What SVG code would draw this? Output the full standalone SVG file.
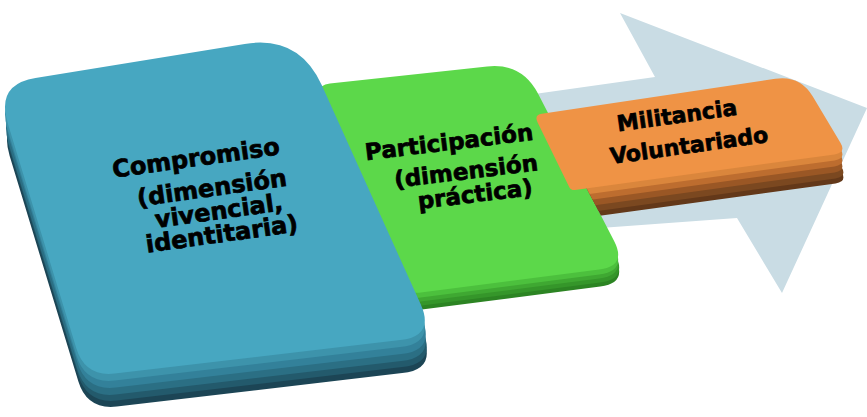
<svg xmlns="http://www.w3.org/2000/svg" width="867" height="417" viewBox="0 0 867 417">
<defs>
<style>
.t{font-family:"DejaVu Sans","Liberation Sans",sans-serif;font-weight:bold;fill:#000;stroke:#000;stroke-width:0.7;text-anchor:middle}
</style>
<path id="blueFace" d="M35.5,78.1 L244.7,43.9 Q299,35 321.7,85.1 L420.6,304.1 Q435,336 400.2,340.1 L114.8,373.5 Q85,377 76.3,348.3 L7.6,122.8 Q-4,84.5 35.5,78.1 Z"/>
<path id="greenFace" d="M329.9,83.4 L487.2,66.4 Q522,62.6 538.1,93.7 L614.1,241.1 Q627,266 599.2,269.6 L418.9,292.7 Q409,294 404.9,284.9 L321.2,98.7 Q315,85 329.9,83.4 Z"/>
<path id="orangeFace" d="M541.9,113.8 L775.3,78.7 Q800,75 812.8,96.5 L840.3,142.5 Q846.5,152.8 834.6,154.4 L575,190 Q571,190.5 569.2,186.9 L537.5,122.2 Q534,115 541.9,113.8 Z"/>
<clipPath id="orangeSideClip"><polygon points="536,60 870,30 870,300 630,300 614,241 538,94"/></clipPath>
</defs>

<g id="connectors">
<path d="M450,106 L655,77 L620,13 L867,108 L782,293 L737,218 L450,239 Z" fill="#c9dce4"/>
</g>

<g id="node-participacion">
<use href="#greenFace" transform="translate(1,17)" fill="#2c8423"/>
<use href="#greenFace" transform="translate(1,13)" fill="#35962a"/>
<use href="#greenFace" transform="translate(0,9)" fill="#3fa832"/>
<use href="#greenFace" transform="translate(0,5)" fill="#4cc03d"/>
<use href="#greenFace" fill="#5cd84a"/>
<text class="t" font-size="23" transform="translate(450,150) rotate(-7)">Participación</text>
<text class="t" font-size="23" transform="translate(467,179) rotate(-7)">(dimensión</text>
<text class="t" font-size="23" transform="translate(476,202) rotate(-7)">práctica)</text>
</g>

<g id="node-militancia">
<g clip-path="url(#orangeSideClip)">
<use href="#orangeFace" transform="translate(1,29)" fill="#633819"/>
<use href="#orangeFace" transform="translate(1,24)" fill="#7b4820"/>
<use href="#orangeFace" transform="translate(0,18)" fill="#9a5725"/>
<use href="#orangeFace" transform="translate(0,12)" fill="#bd6d2f"/>
<use href="#orangeFace" transform="translate(0,6)" fill="#da863c"/>
</g>
<use href="#orangeFace" fill="#ef9345"/>
<text class="t" font-size="22" transform="translate(678,123) rotate(-8)">Militancia</text>
<text class="t" font-size="22" transform="translate(690,153) rotate(-8)">Voluntariado</text>
</g>

<g id="node-compromiso">
<use href="#blueFace" transform="translate(2,33)" fill="#1c4555"/>
<use href="#blueFace" transform="translate(2,27)" fill="#235a6c"/>
<use href="#blueFace" transform="translate(1,21)" fill="#2b6f84"/>
<use href="#blueFace" transform="translate(1,14)" fill="#33819a"/>
<use href="#blueFace" transform="translate(0,7)" fill="#3d93ab"/>
<use href="#blueFace" fill="#47a7c1"/>
<text class="t" font-size="24" transform="translate(197,166) rotate(-8)">Compromiso</text>
<text class="t" font-size="24" transform="translate(213,196) rotate(-8)">(dimensión</text>
<text class="t" font-size="24" transform="translate(220,219) rotate(-8)">vivencial,</text>
<text class="t" font-size="24" transform="translate(223,242) rotate(-8)">identitaria)</text>
</g>
</svg>
